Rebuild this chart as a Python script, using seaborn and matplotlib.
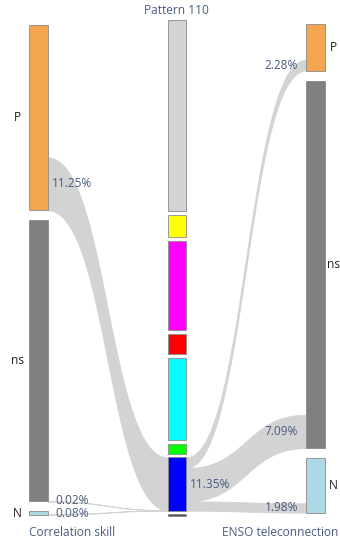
import numpy as np
import matplotlib
matplotlib.use("Agg")
import matplotlib.pyplot as plt
import seaborn as sns

# ---- data (percent of grid points) ----
left_labels = ["P", "ns", "N"]
left_values = [39.5, 59.8, 0.7]
left_colors = ["#f4a54f", "#808080", "#add8e6"]

mid_values = [40.6, 4.8, 18.9, 4.3, 17.6, 2.0, 11.35, 0.35]
mid_colors = ["#d3d3d3", "#ffff00", "#ff00ff", "#ff0000",
              "#00ffff", "#00ff00", "#0000ff", "#505050"]
highlight_index = 6  # the blue cluster whose flows are drawn

right_labels = ["P", "ns", "N"]
right_values = [9.9, 78.2, 11.6]
right_colors = ["#f4a54f", "#808080", "#add8e6"]

# flows into the highlighted cluster (from left P, ns, N)
inflow_values = [11.25, 0.02, 0.08]
# flows out of the highlighted cluster (to right P, ns, N)
outflow_values = [2.28, 7.09, 1.98]

column_titles = ["Correlation skill", "Pattern 110", "ENSO teleconnection"]

# ---- layout ----
sns.set_theme(style="white")
plt.rcParams["font.family"] = ["Open Sans", "DejaVu Sans"]

W, H = 340, 545
fig = plt.figure(figsize=(W / 100, H / 100), dpi=100)
ax = fig.add_axes([0, 0, 1, 1])
ax.set_xlim(0, W)
ax.set_ylim(H, 0)
ax.set_axis_off()

SCALE = 4.70          # pixels per percent
NODE_W = 18.5
TEXT_C = "#4a5c7e"
LINK_C = "#d3d3d3"


def column(values, top, gap):
    tops, y = [], top
    for v in values:
        tops.append(y)
        y += v * SCALE + gap
    return np.array(tops), np.array(values) * SCALE


cols = {
    "left": (29.0, *column(left_values, 24.7, 10.0), left_colors),
    "mid": (167.5, *column(mid_values, 20.0, 3.8), mid_colors),
    "right": (306.0, *column(right_values, 24.0, 10.0), right_colors),
}

for x, tops, heights, colors in cols.values():
    ax.bar(np.full(len(tops), x), heights, bottom=tops, width=NODE_W,
           align="edge", color=colors, edgecolor="#8a8a8a", linewidth=0.6,
           zorder=3)


def band(x0, x1, a0, b0, a1, b1):
    t = np.linspace(0, 1, 200)
    xm = (x0 + x1) / 2
    w = [(1 - t) ** 3, 3 * (1 - t) ** 2 * t, 3 * (1 - t) * t ** 2, t ** 3]
    xs = w[0] * x0 + w[1] * xm + w[2] * xm + w[3] * x1
    top = (w[0] + w[1]) * a0 + (w[2] + w[3]) * a1
    bot = (w[0] + w[1]) * b0 + (w[2] + w[3]) * b1
    ax.fill_between(xs, top, bot, color=LINK_C, linewidth=0.6,
                    edgecolor=LINK_C, zorder=1)


lx, ltops, lh, _ = cols["left"]
mx, mtops, mh, _ = cols["mid"]
rx, rtops, rh, _ = cols["right"]

# flows into the highlighted cluster, stacked from its top
y_in = mtops[highlight_index]
for i, v in enumerate(inflow_values):
    h = v * SCALE
    src_bot = ltops[i] + lh[i]
    band(lx + NODE_W, mx, src_bot - h, src_bot, y_in, y_in + h)
    y_in += h

# flows out of the highlighted cluster, stacked from its top
y_out = mtops[highlight_index]
for i, v in enumerate(outflow_values):
    h = v * SCALE
    dst_bot = rtops[i] + rh[i]
    band(mx + NODE_W, rx, y_out, y_out + h, dst_bot - h, dst_bot)
    y_out += h

# ---- labels ----
fs = 8.6
for i, lab in enumerate(left_labels):
    ax.text(17, ltops[i] + lh[i] / 2, lab, ha="center", va="center",
            fontsize=fs, color="#222222")
for i, lab in enumerate(right_labels):
    ax.text(333, rtops[i] + rh[i] / 2, lab, ha="center", va="center",
            fontsize=fs, color="#222222")

# percentages of the flows
ax.text(lx + NODE_W + 4, ltops[0] + lh[0] - inflow_values[0] * SCALE / 2,
        f"{inflow_values[0]:.2f}%", ha="left", va="center", fontsize=fs,
        color=TEXT_C)
ax.text(lx + NODE_W + 8, ltops[1] + lh[1] - 1, f"{inflow_values[1]:.2f}%",
        ha="left", va="center", fontsize=fs, color=TEXT_C)
ax.text(lx + NODE_W + 8, ltops[2] + lh[2] / 2, f"{inflow_values[2]:.2f}%",
        ha="left", va="center", fontsize=fs, color=TEXT_C)

for i, v in enumerate(outflow_values):
    ax.text(rx - 8, rtops[i] + rh[i] - v * SCALE / 2, f"{v:.2f}%",
            ha="right", va="center", fontsize=fs, color=TEXT_C)

blue_total = sum(inflow_values)
ax.text(mx + NODE_W + 4, mtops[highlight_index] + mh[highlight_index] / 2,
        f"{blue_total:.2f}%", ha="left", va="center", fontsize=fs,
        color=TEXT_C)

# column titles
ax.text(176.5, 10, column_titles[1], ha="center", va="center", fontsize=fs,
        color=TEXT_C)
ax.text(72, 533, column_titles[0], ha="center", va="center", fontsize=fs,
        color=TEXT_C)
ax.text(280, 533, column_titles[2], ha="center", va="center", fontsize=fs,
        color=TEXT_C)

fig.savefig("out.png", dpi=100, facecolor="white")
